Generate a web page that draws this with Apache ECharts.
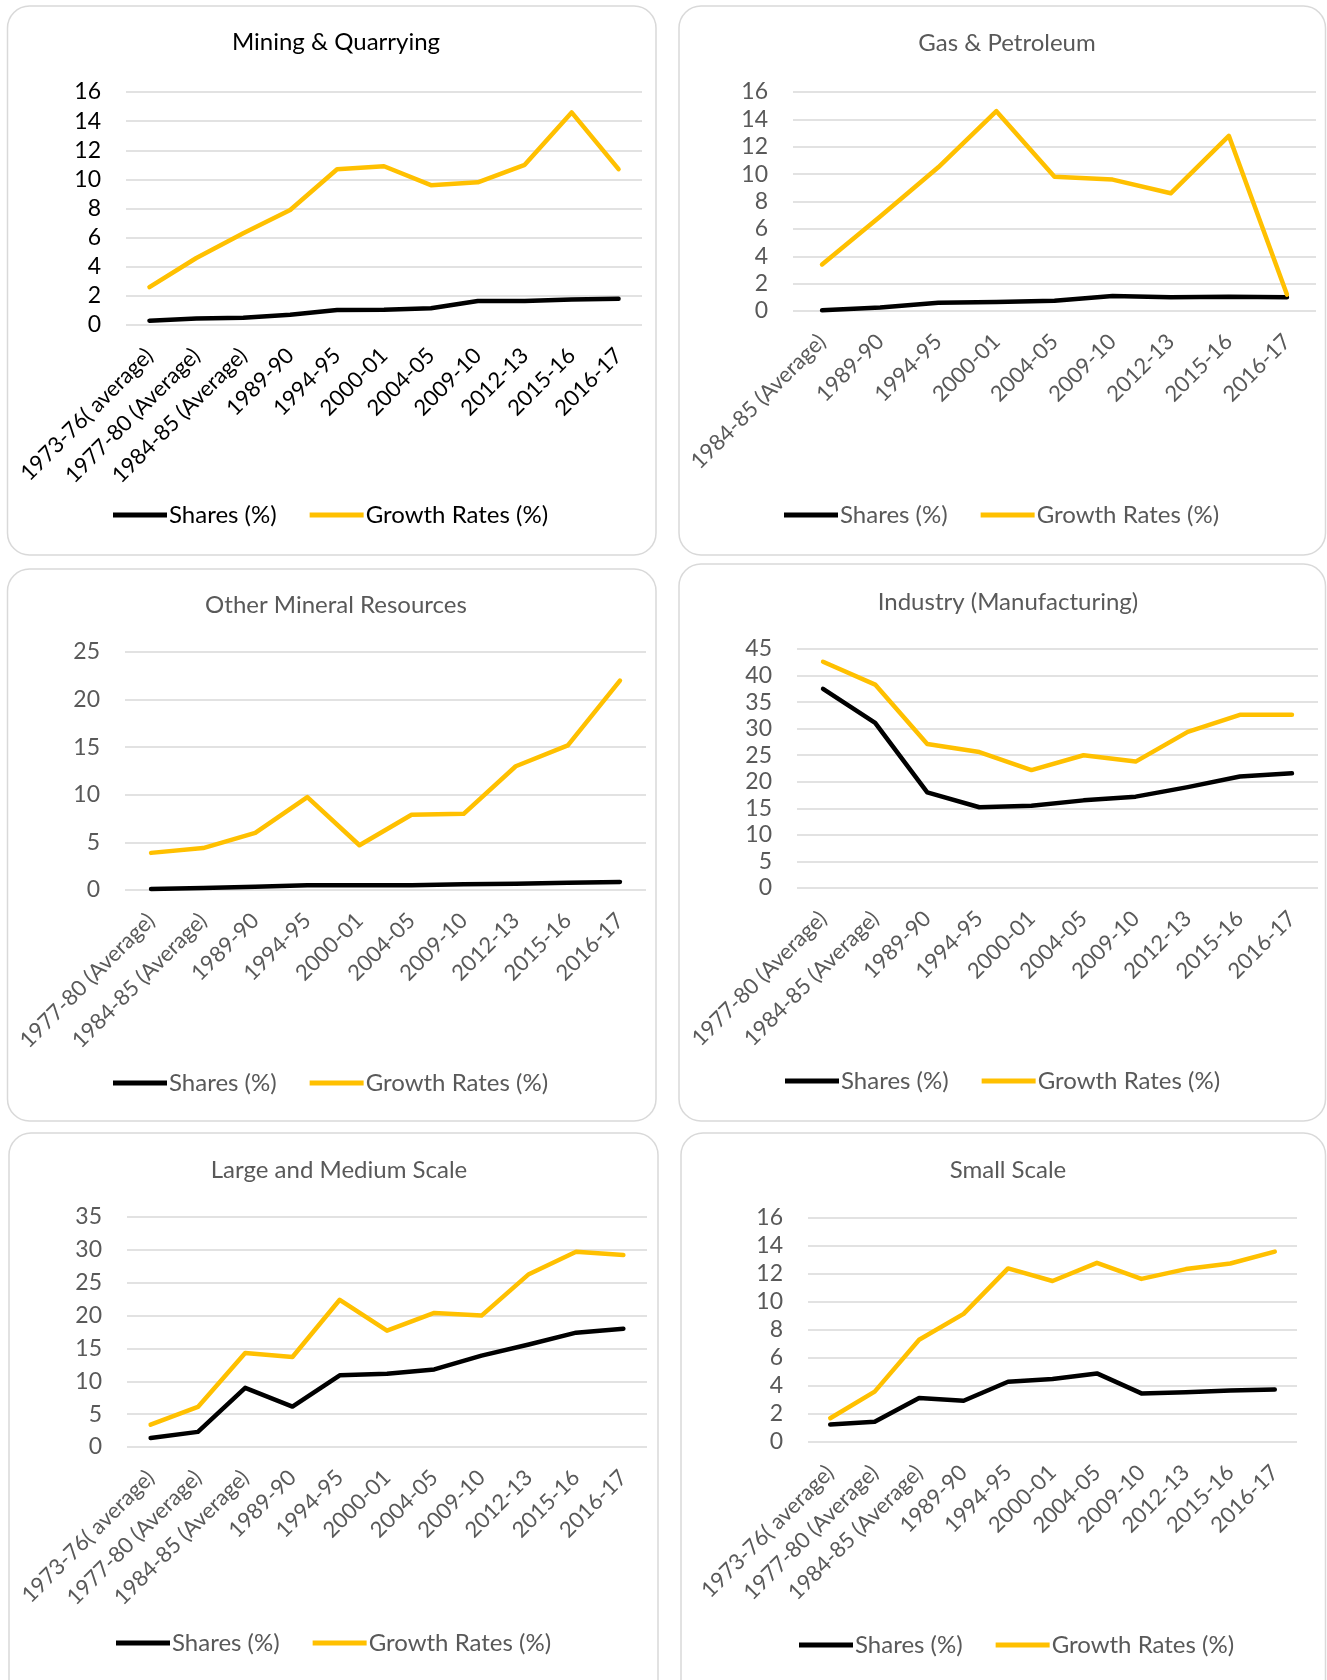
<!DOCTYPE html>
<html>
<head>
<meta charset="utf-8">
<script src="https://cdn.jsdelivr.net/npm/echarts@6/dist/echarts.min.js"></script>
<style>
  html, body { margin: 0; padding: 0; background: #fff; }
  #main { width: 1327px; height: 1680px; }
</style>
</head>
<body>
<div id="main"></div>
<script>
// categories
const periodsAll = ['1973-76( average)', '1977-80 (Average)', '1984-85 (Average)', '1989-90', '1994-95',
  '2000-01', '2004-05', '2009-10', '2012-13', '2015-16', '2016-17'];
const periodsFrom77 = periodsAll.slice(1);
const periodsFrom84 = periodsAll.slice(2);

// Mining & Quarrying
const miningShares = [0.3, 0.45, 0.5, 0.7, 1.03, 1.05, 1.15, 1.65, 1.65, 1.75, 1.8];
const miningGrowth = [2.6, 4.6, 6.3, 7.9, 10.7, 10.9, 9.6, 9.8, 11.0, 14.6, 10.7];
// Gas & Petroleum
const gasShares = [0.05, 0.25, 0.6, 0.65, 0.75, 1.1, 1.0, 1.05, 1.0];
const gasGrowth = [3.4, 6.9, 10.5, 14.6, 9.8, 9.6, 8.6, 12.8, 1.2];
// Other Mineral Resources
const otherShares = [0.1, 0.2, 0.35, 0.5, 0.5, 0.5, 0.6, 0.65, 0.75, 0.85];
const otherGrowth = [3.9, 4.4, 6.0, 9.75, 4.7, 7.9, 8.0, 13.0, 15.2, 22.0];
// Industry (Manufacturing)
const industryShares = [37.5, 31.1, 18.0, 15.2, 15.5, 16.5, 17.2, 19.0, 21.0, 21.6];
const industryGrowth = [42.6, 38.3, 27.1, 25.6, 22.2, 25.0, 23.8, 29.4, 32.6, 32.6];
// Large and Medium Scale
const largeShares = [1.36, 2.3, 9.0, 6.15, 10.9, 11.15, 11.8, 13.9, 15.6, 17.4, 18.0];
const largeGrowth = [3.4, 6.1, 14.3, 13.7, 22.4, 17.7, 20.4, 20.0, 26.3, 29.7, 29.2];
// Small Scale
const smallShares = [1.25, 1.45, 3.15, 2.95, 4.3, 4.5, 4.9, 3.47, 3.55, 3.67, 3.75];
const smallGrowth = [1.7, 3.6, 7.3, 9.15, 12.4, 11.5, 12.8, 11.65, 12.35, 12.75, 13.6];

const SHARE = 'Shares (%)';
const GROWTH = 'Growth Rates (%)';
const FONT = 'Lato, "Open Sans", sans-serif';

// one entry per panel
const panels = [
  { title: 'Mining & Quarrying', cats: periodsAll, shares: miningShares, growth: miningGrowth,
    max: 16, step: 2, dark: true,
    frame: [7.5, 6, 648.5, 549], titlePos: [331, 42], legendPos: [108, 515],
    grid: { left: 126, top: 92, width: 516, height: 233 } },
  { title: 'Gas & Petroleum', cats: periodsFrom84, shares: gasShares, growth: gasGrowth,
    max: 16, step: 2,
    frame: [679, 6, 646.5, 549], titlePos: [1002, 43], legendPos: [779, 515],
    grid: { left: 793, top: 92, width: 523, height: 219 } },
  { title: 'Other Mineral Resources', cats: periodsFrom77, shares: otherShares, growth: otherGrowth,
    max: 25, step: 5,
    frame: [7.5, 569, 648.5, 552], titlePos: [331, 605], legendPos: [108, 1083],
    grid: { left: 125, top: 652, width: 521, height: 238 } },
  { title: 'Industry (Manufacturing)', cats: periodsFrom77, shares: industryShares, growth: industryGrowth,
    max: 45, step: 5,
    frame: [679, 564, 646.5, 557], titlePos: [1003, 602], legendPos: [780, 1081],
    grid: { left: 797, top: 649, width: 521, height: 239 } },
  { title: 'Large and Medium Scale', cats: periodsAll, shares: largeShares, growth: largeGrowth,
    max: 35, step: 5,
    frame: [9, 1133, 649, 570], titlePos: [334, 1170], legendPos: [111, 1643],
    grid: { left: 127, top: 1217, width: 520, height: 230 } },
  { title: 'Small Scale', cats: periodsAll, shares: smallShares, growth: smallGrowth,
    max: 16, step: 2,
    frame: [681, 1133, 644.5, 570], titlePos: [1003, 1170], legendPos: [794, 1645],
    grid: { left: 808, top: 1218, width: 489, height: 224 } }
];

const option = {
  animation: false,
  backgroundColor: '#fff',
  textStyle: { fontFamily: FONT },
  graphic: [],
  title: [],
  legend: [],
  grid: [],
  xAxis: [],
  yAxis: [],
  series: []
};

panels.forEach((p, i) => {
  const txt = p.dark ? '#000' : '#595959';
  option.graphic.push({
    type: 'rect', silent: true,
    shape: { x: p.frame[0], y: p.frame[1], width: p.frame[2], height: p.frame[3], r: 22 },
    style: { fill: 'none', stroke: '#d9d9d9', lineWidth: 1.5 }
  });
  option.title.push({
    text: p.title, left: p.titlePos[0], top: p.titlePos[1] - 17, textAlign: 'center',
    textStyle: { fontFamily: FONT, fontSize: 24, fontWeight: 'normal', color: txt }
  });
  option.legend.push({
    left: p.legendPos[0], top: p.legendPos[1] - 17,
    data: [SHARE, GROWTH], icon: 'rect', itemWidth: 54, itemHeight: 5, itemGap: 33,
    textStyle: { fontFamily: FONT, fontSize: 24, color: txt, padding: [0, 0, 0, -3] }
  });
  option.grid.push(Object.assign({ containLabel: false }, p.grid));
  option.xAxis.push({
    type: 'category', gridIndex: i, data: p.cats, boundaryGap: true,
    axisLine: { show: false }, axisTick: { show: false },
    axisLabel: { interval: 0, rotate: 45, margin: 27, fontSize: 22, fontFamily: FONT, color: txt }
  });
  option.yAxis.push({
    type: 'value', gridIndex: i, min: 0, max: p.max, interval: p.step,
    axisLine: { show: false }, axisTick: { show: false },
    axisLabel: { margin: 25, fontSize: 23, fontFamily: FONT, color: txt },
    splitLine: { lineStyle: { color: '#d9d9d9', width: 1.5 } }
  });
  option.series.push({
    name: SHARE, type: 'line', xAxisIndex: i, yAxisIndex: i, data: p.shares,
    showSymbol: false, color: '#000000',
    lineStyle: { width: 4.5, cap: 'round', join: 'round' }
  });
  option.series.push({
    name: GROWTH, type: 'line', xAxisIndex: i, yAxisIndex: i, data: p.growth,
    showSymbol: false, color: '#ffc000',
    lineStyle: { width: 4.5, cap: 'round', join: 'round' }
  });
});

const chart = echarts.init(document.getElementById('main'));
chart.setOption(option);
</script>
</body>
</html>
